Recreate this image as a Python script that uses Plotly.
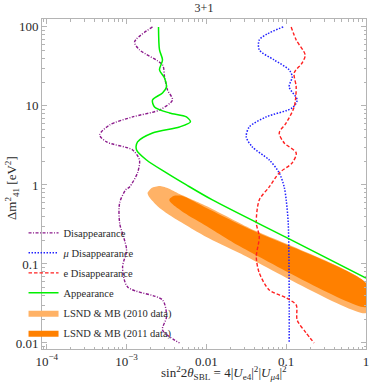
import plotly.graph_objects as go

# ---------------- data ----------------
# nu Disappearance (purple, dash-dot)
dis_s2 = [2.11e-3, 1.26e-3, 1.45e-3, 2.82e-3, 2.99e-3, 3.26e-3, 3.76e-3, 2.59e-3, 1.19e-3,
          6.13e-4, 4.60e-4, 5.62e-4, 1.19e-3, 1.45e-3, 1.37e-3, 1.09e-3, 9.72e-4, 8.18e-4,
          8.18e-4, 1.00e-3, 8.91e-4, 1.03e-3, 2.82e-3, 3.16e-3, 2.82e-3, 4.60e-3]
dis_dm2 = [100, 64.6, 51.2, 33.0, 23.3, 15.9, 11.9, 8.90, 7.26,
           5.74, 4.30, 3.50, 2.77, 2.07, 1.42, 0.944, 0.865, 0.592,
           0.330, 0.150, 0.0916, 0.0512, 0.0350, 0.0213, 0.0146, 0.0100]

# mu Disappearance (blue, dotted)
mu_s2 = [0.0917, 0.0579, 0.0460, 0.0460, 0.0708, 0.109, 0.1189, 0.109, 0.1372, 0.1189,
         0.0562, 0.0345, 0.0316, 0.0376, 0.0613, 0.0818, 0.0944, 0.100, 0.106, 0.109, 0.109]
mu_dm2 = [100, 81.5, 68.4, 51.2, 38.2, 28.6, 23.3, 17.4, 11.9, 9.44,
          7.26, 5.42, 4.06, 3.03, 2.07, 1.42, 0.944, 0.646, 0.330, 0.0469, 0.0100]

# e Disappearance (red, dashed)
e_s2 = [0.1155, 0.1334, 0.1728, 0.1585, 0.1259, 0.1334, 0.1259, 0.100, 0.0818, 0.0944,
        0.1334, 0.1189, 0.0818, 0.0613, 0.0460, 0.0422, 0.0460, 0.0422, 0.0460, 0.0613,
        0.100, 0.1334, 0.1372, 0.1778, 0.2239]
e_dm2 = [100, 68.4, 44.3, 35.0, 26.2, 17.4, 9.71, 6.10, 4.55, 3.40,
         2.54, 1.90, 1.42, 0.944, 0.646, 0.330, 0.220, 0.1228, 0.0769, 0.0469,
         0.0372, 0.0303, 0.0195, 0.0134, 0.0100]

# Appearance (green, solid)
app_s2 = [2.512e-3, 2.585e-3, 2.818e-3, 2.585e-3, 2.985e-3, 3.162e-3, 2.818e-3, 2.113e-3,
          2.239e-3, 3.45e-3, 5.62e-3, 6.31e-3, 4.60e-3, 2.113e-3, 1.372e-3, 1.334e-3,
          1.778e-3, 3.162e-3, 5.62e-3, 0.01189, 0.1, 1.0]
app_dm2 = [100, 51.2, 38.2, 28.6, 22.6, 17.4, 14.6, 11.9,
           9.71, 8.14, 7.26, 6.27, 5.42, 4.55, 3.50, 2.77,
           2.07, 1.42, 1.0, 0.646, 0.217, 0.0665]

# LSND & MB (2010 data) allowed region (light orange)
lsnd10_s2 = [1.830e-3, 2.053e-3, 2.585e-3, 3.255e-3, 4.60e-3, 0.01, 0.0345, 1.0,
             1.0, 0.02585, 0.01, 3.758e-3, 2.585e-3, 2.113e-3, 1.884e-3, 1.830e-3]
lsnd10_dm2 = [0.792, 0.916, 0.971, 0.916, 0.769, 0.542, 0.286, 0.0574,
              0.0240, 0.1377, 0.220, 0.394, 0.512, 0.627, 0.726, 0.792]

# LSND & MB (2011 data) allowed region (dark orange)
lsnd11_s2 = [3.45e-3, 3.868e-3, 5.01e-3, 0.01, 0.0345, 1.0,
             1.0, 0.02585, 0.01, 5.31e-3, 3.868e-3, 3.45e-3, 3.45e-3]
lsnd11_dm2 = [0.665, 0.726, 0.726, 0.512, 0.277, 0.0574,
              0.0286, 0.169, 0.303, 0.443, 0.558, 0.627, 0.665]

x_tickvals = [1e-4, 1e-3, 1e-2, 1e-1, 1]
x_ticktext = ["10<sup>\u22124</sup>", "10<sup>\u22123</sup>", "0.01", "0.1", "1"]
y_tickvals = [0.01, 0.1, 1, 10, 100]
y_ticktext = ["0.01", "0.1", "1", "10", "100"]

# ---------------- figure ----------------
SERIF = "Liberation Serif, Times New Roman, serif"
TXT = "#2a2a2a"
FRAME = "#b4b4b4"

fig = go.Figure()

fig.add_trace(go.Scatter(x=lsnd10_s2, y=lsnd10_dm2, mode="lines", fill="toself",
                         fillcolor="#FFB266", line=dict(width=0, shape="spline", smoothing=0.6),
                         name="LSND & MB (2010 data)", legendrank=5, legendgroup="g5"))
fig.add_trace(go.Scatter(x=lsnd11_s2, y=lsnd11_dm2, mode="lines", fill="toself",
                         fillcolor="#FF8000", line=dict(width=0, shape="spline", smoothing=0.6),
                         name="LSND & MB (2011 data)", legendrank=6, legendgroup="g6"))
fig.add_trace(go.Scatter(x=dis_s2, y=dis_dm2, mode="lines",
                         line=dict(color="#8B1A8B", width=1.4, dash="3px,1.5px,1px,1.5px",
                                   shape="spline", smoothing=0.8),
                         name="Disappearance", legendrank=1, legendgroup="g1"))
fig.add_trace(go.Scatter(x=mu_s2, y=mu_dm2, mode="lines",
                         line=dict(color="#2020FF", width=1.5, dash="1.5px,1.5px",
                                   shape="spline", smoothing=0.8),
                         name="<i>\u03bc</i> Disappearance", legendrank=2, legendgroup="g2"))
fig.add_trace(go.Scatter(x=e_s2, y=e_dm2, mode="lines",
                         line=dict(color="#FF2020", width=1.4, dash="3.5px,2px",
                                   shape="spline", smoothing=0.8),
                         name="e Disappearance", legendrank=3, legendgroup="g3"))
fig.add_trace(go.Scatter(x=app_s2, y=app_dm2, mode="lines",
                         line=dict(color="#00F000", width=1.5, shape="spline", smoothing=0.8),
                         name="Appearance", legendrank=4, legendgroup="g4"))

x_minor = [m * 10.0 ** d for d in range(-5, 1) for m in range(2, 10)]
y_minor = [m * 10.0 ** d for d in range(-3, 3) for m in range(2, 10)]

axis_common = dict(
    type="log", showgrid=False, zeroline=False, automargin=False,
    showline=True, linecolor=FRAME, linewidth=1, mirror="allticks",
    ticks="inside", ticklen=5, tickcolor=FRAME, tickwidth=1,
    tickmode="array",
    tickfont=dict(family=SERIF, size=13, color=TXT),
)

fig.update_xaxes(**axis_common, range=[-4.06, 0.0],
                 tickvals=x_tickvals, ticktext=x_ticktext,
                 minor=dict(tickmode="array", tickvals=x_minor, ticks="inside",
                            ticklen=2.5, tickcolor=FRAME, tickwidth=1))
fig.update_yaxes(**axis_common, range=[-2.076, 2.1],
                 tickvals=y_tickvals, ticktext=y_ticktext,
                 minor=dict(tickmode="array", tickvals=y_minor, ticks="inside",
                            ticklen=2.5, tickcolor=FRAME, tickwidth=1))

fig.update_layout(
    width=374, height=385,
    margin=dict(l=42, r=8, t=19, b=36, autoexpand=False),
    paper_bgcolor="white", plot_bgcolor="white",
    title=dict(text="3+1", x=0.5, xref="paper", y=1 - 8 / 385, yanchor="middle",
               font=dict(family=SERIF, size=12, color=TXT)),
    legend=dict(x=-0.057, y=0.005, xanchor="left", yanchor="bottom",
                bgcolor="rgba(0,0,0,0)", font=dict(family=SERIF, size=10.5, color=TXT),
                traceorder="grouped", tracegroupgap=1, itemwidth=30),
    annotations=[
        dict(text="sin<sup>2</sup>2<i>\u03b8</i><sub>SBL</sub> = 4|<i>U</i><sub>e4</sub>|<sup>2</sup>|<i>U</i><sub><i>\u03bc</i>4</sub>|<sup>2</sup>",
             xref="paper", yref="paper", x=(224 - 42) / 324, y=-(373 - 349) / 330,
             xanchor="center", yanchor="middle", showarrow=False,
             font=dict(family=SERIF, size=13, color=TXT)),
        dict(text="\u0394m<sup>2</sup><sub>41</sub> [eV<sup>2</sup>]",
             xref="paper", yref="paper", x=(12 - 42) / 324, y=(349 - 188) / 330,
             xanchor="center", yanchor="middle", textangle=-90, showarrow=False,
             font=dict(family=SERIF, size=13, color=TXT)),
    ],
)

fig.write_html("out.html", config={"displayModeBar": False},
               post_script="document.body.style.margin='0';document.body.style.overflow='hidden';")
